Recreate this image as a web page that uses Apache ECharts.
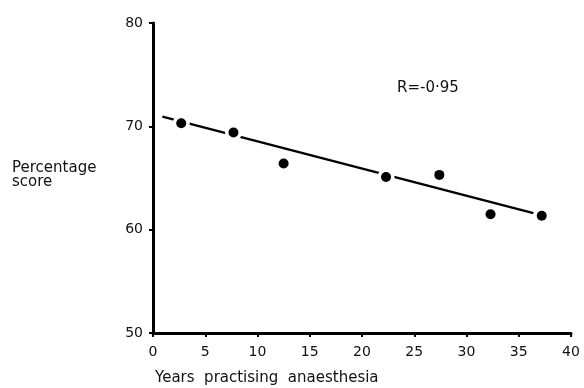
<!DOCTYPE html>
<html>
<head>
<meta charset="utf-8">
<script src="https://cdn.jsdelivr.net/npm/echarts@6/dist/echarts.min.js"></script>
<style>
html,body{margin:0;padding:0;background:#fff;}
#c{width:584px;height:388px;}
</style>
</head>
<body>
<div id="c"></div>
<script>
// Data
var years = [2.7, 7.7, 12.5, 22.3, 27.4, 32.3, 37.2];
var scores = [70.3, 69.4, 66.4, 65.1, 65.3, 61.5, 61.35];
// Fitted regression line end points (as drawn)
var fitYears = [0.9, 36.4];
var fitScores = [70.94, 61.6];
var xTicks = [0, 5, 10, 15, 20, 25, 30, 35, 40];
var yTicks = [50, 60, 70, 80];
var rLabel = 'R=-0·95';
var xTitle = 'Years  practising  anaesthesia';
var yTitle = ['Percentage', 'score'];

var pts = years.map(function (x, i) { return [x, scores[i]]; });
var fit = fitYears.map(function (x, i) { return [x, fitScores[i]]; });
var FONT = '"DejaVu Sans"';

var chart = echarts.init(document.getElementById('c'), null, {renderer: 'canvas'});
chart.setOption({
  animation: false,
  backgroundColor: '#fff',
  grid: {left: 153, right: 13, top: 23, bottom: 55},
  xAxis: {
    type: 'value', min: xTicks[0], max: xTicks[xTicks.length - 1], interval: 5,
    axisLine: {show: true, lineStyle: {color: '#000', width: 3}},
    axisTick: {show: true, length: 4, lineStyle: {color: '#000', width: 2}},
    axisLabel: {color: '#111', fontFamily: 'DejaVu Sans', fontSize: 14, margin: 12},
    splitLine: {show: false}
  },
  yAxis: {
    type: 'value', min: yTicks[0], max: yTicks[yTicks.length - 1], interval: 10,
    axisLine: {show: true, lineStyle: {color: '#000', width: 3}},
    axisTick: {show: true, length: 4, lineStyle: {color: '#000', width: 2}},
    axisLabel: {color: '#111', fontFamily: 'DejaVu Sans', fontSize: 14, margin: 10},
    splitLine: {show: false}
  },
  series: [
    {
      type: 'line', data: fit, showSymbol: false, z: 1,
      lineStyle: {color: '#000', width: 2.5}
    },
    {
      type: 'scatter', data: pts, symbolSize: 17, z: 2,
      itemStyle: {color: '#fff', opacity: 1}, silent: true
    },
    {
      type: 'scatter', data: pts, symbolSize: 10, z: 3,
      itemStyle: {color: '#000', opacity: 1}
    }
  ],
  graphic: [
    {type: 'text', left: 397, top: 81, style: {text: rLabel, font: '15px ' + FONT, fill: '#111'}},
    {type: 'text', left: 12, top: 161, style: {text: yTitle.join('\n'), font: '15px ' + FONT, fill: '#111', lineHeight: 14}},
    {type: 'text', left: 155, top: 371, style: {text: xTitle, font: '15px ' + FONT, fill: '#111'}}
  ]
});
</script>
</body>
</html>
